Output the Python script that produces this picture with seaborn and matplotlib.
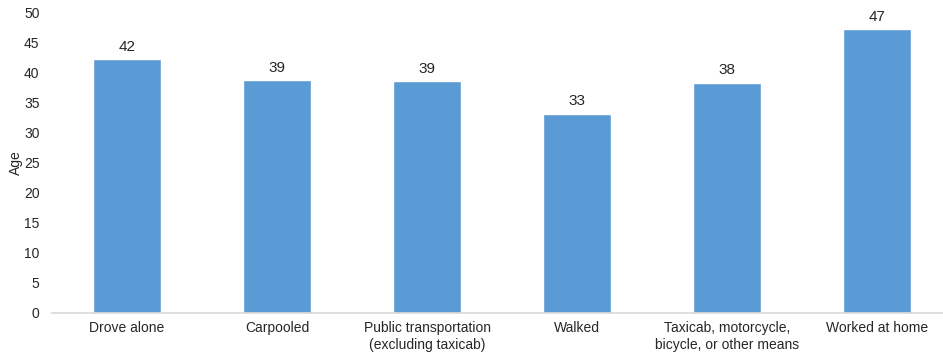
import matplotlib
matplotlib.use("Agg")
import matplotlib.pyplot as plt
import seaborn as sns
import pandas as pd

categories = [
    "Drove alone",
    "Carpooled",
    "Public transportation\n(excluding taxicab)",
    "Walked",
    "Taxicab, motorcycle,\nbicycle, or other means",
    "Worked at home",
]
median_age = [42.3, 38.8, 38.6, 33.2, 38.4, 47.3]
y_ticks = [0, 5, 10, 15, 20, 25, 30, 35, 40, 45, 50]

sns.set_theme(style="white")
plt.rcParams["font.family"] = ["Liberation Sans", "DejaVu Sans"]

df = pd.DataFrame({"mode": categories, "age": median_age})

W, H = 943, 358
fig = plt.figure(figsize=(W / 100, H / 100), dpi=100)
ax = fig.add_axes([52 / W, 45 / H, 900 / W, 300 / H])

sns.barplot(data=df, x="mode", y="age", color="#5B9BD5", saturation=1,
            width=0.45, ax=ax)

ax.set_xlim(-0.5, len(categories) - 0.5)
ax.set_ylim(0, 50)
ax.set_yticks(y_ticks)
ax.set_ylabel("Age", fontsize=10, color="#262626", labelpad=1)
ax.set_xlabel("")
ax.tick_params(axis="y", labelsize=10, colors="#262626", length=0, pad=9)
ax.tick_params(axis="x", labelsize=10, colors="#262626", length=0, pad=6)

for side in ["top", "right", "left"]:
    ax.spines[side].set_visible(False)
ax.spines["bottom"].set_color("#D9D9D9")
ax.spines["bottom"].set_linewidth(1.2)

for container in ax.containers:
    ax.bar_label(container, fmt="%.0f", padding=4, fontsize=11, color="#262626")

fig.savefig("out.png", dpi=100)
